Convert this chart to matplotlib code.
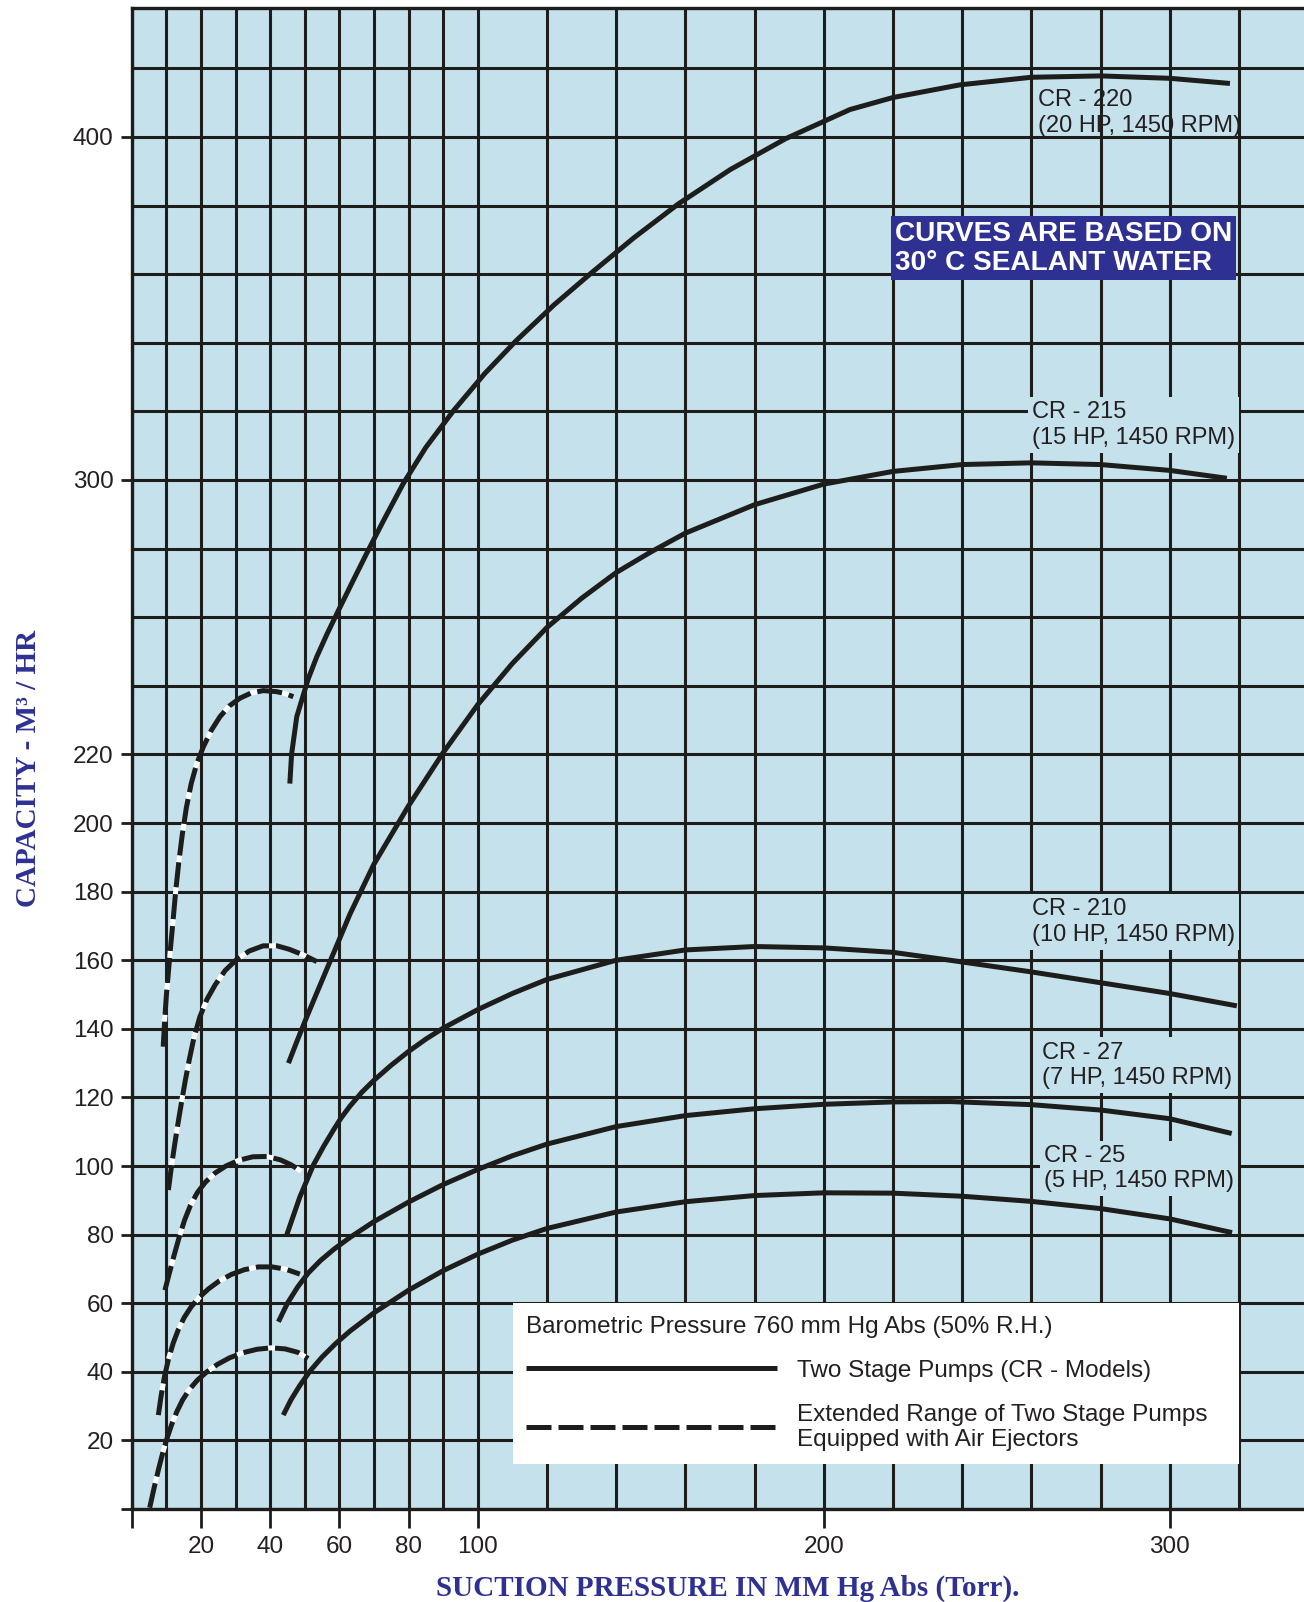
import matplotlib.pyplot as plt
from matplotlib.lines import Line2D

plt.rcParams['font.family'] = ['Liberation Sans', 'DejaVu Sans']

# ---- capacity curves (suction pressure torr -> capacity m3/hr), solid part ----
cr220_x = [45.7, 46.2, 47.7, 51.0, 53.5, 56.4, 60.0, 64.0, 68.0, 73.0, 78.5, 85.0, 93.0, 102.0, 111.0,
           122.0, 133.0, 145.0, 158.0, 173.0, 189.0, 207.6, 220.0, 239.4, 260.0, 280.0, 300.0, 317.4]
cr220_y = [211.5, 220.0, 231.0, 242.0, 248.5, 255.0, 262.5, 270.7, 278.8, 288.6, 299.0, 309.5, 320.2, 331.0,
           340.5, 351.0, 360.5, 370.5, 380.5, 390.5, 399.5, 408.0, 411.5, 415.2, 417.4, 417.8, 417.1, 415.6]

cr215_x = [45.3, 48.0, 50.6, 53.5, 58.3, 63.1, 70.0, 80.0, 90.0, 100.0, 110.0, 120.0, 130.0, 140.0,
           150.0, 160.0, 180.0, 200.0, 220.0, 240.0, 260.0, 280.0, 300.0, 316.5]
cr215_y = [130.0, 137.0, 143.5, 150.5, 162.0, 173.5, 188.0, 205.0, 220.5, 234.5, 246.5, 257.0, 265.5, 273.0,
           279.0, 284.5, 292.8, 298.8, 302.5, 304.5, 305.0, 304.5, 302.8, 300.5]

cr210_x = [44.8, 48.6, 52.5, 55.5, 58.3, 60.5, 63.1, 66.5, 70.0, 75.0, 80.0, 85.0, 90.0, 100.0, 110.0,
           120.0, 140.0, 160.0, 180.0, 200.0, 220.0, 236.5, 260.0, 280.3, 300.0, 319.4]
cr210_y = [79.9, 91.0, 100.3, 105.8, 110.5, 114.0, 117.5, 121.5, 125.0, 129.4, 133.4, 137.0, 140.2, 145.6, 150.3,
           154.4, 160.0, 163.0, 164.0, 163.6, 162.3, 160.0, 156.6, 153.4, 150.3, 146.7]

cr27_x = [42.4, 45.0, 48.0, 51.0, 54.5, 58.5, 63.1, 70.0, 80.0, 90.0, 100.0, 110.0, 120.0, 140.0,
          160.0, 180.0, 200.0, 220.0, 236.5, 260.0, 280.3, 300.0, 317.9]
cr27_y = [54.6, 60.0, 64.8, 68.8, 72.4, 75.8, 79.2, 83.8, 89.5, 94.6, 99.0, 103.0, 106.4, 111.5,
          114.7, 116.7, 118.0, 118.7, 118.8, 117.9, 116.3, 113.8, 109.5]

cr25_x = [43.8, 46.0, 48.5, 51.5, 55.0, 59.0, 63.1, 70.0, 80.0, 90.0, 100.0, 110.0, 120.0, 140.0,
          160.0, 180.0, 200.0, 220.0, 240.0, 260.0, 280.0, 300.0, 318.0]
cr25_y = [27.4, 31.8, 35.9, 40.2, 44.3, 48.3, 51.9, 57.2, 63.8, 69.5, 74.3, 78.4, 81.8, 86.6,
          89.6, 91.4, 92.2, 92.1, 91.2, 89.7, 87.6, 84.6, 80.6]

# ---- extended range with air ejectors (dashed) ----
ext220_x = [9.1, 9.5, 10.0, 10.6, 11.2, 11.9, 12.7, 13.6, 14.6, 15.8, 17.2, 18.8, 20.7, 23.0,
            25.5, 28.3, 31.3, 34.5, 38.0, 41.9, 44.5, 46.7]
ext220_y = [134.8, 142.0, 149.5, 156.5, 163.5, 171.0, 180.0, 188.5, 196.5, 204.5, 211.5, 217.3, 222.2, 227.0,
            231.0, 234.2, 236.4, 237.9, 238.6, 238.3, 237.7, 236.8]

ext215_x = [10.6, 11.5, 12.5, 13.5, 14.5, 15.5, 16.6, 18.0, 19.7, 21.7, 24.1, 27.0, 30.3, 34.0,
            38.0, 42.0, 45.5, 49.5, 53.5]
ext215_y = [93.0, 100.0, 106.8, 113.2, 119.2, 125.0, 130.8, 137.5, 143.5, 148.5, 152.8, 157.0, 160.2, 162.7,
            164.2, 164.2, 163.2, 161.6, 159.6]

ext210_x = [9.6, 10.8, 12.2, 13.7, 15.3, 17.0, 19.0, 21.3, 24.0, 27.2, 31.0, 35.0, 39.0, 43.0, 46.0, 49.0]
ext210_y = [63.8, 68.5, 73.8, 79.2, 84.3, 88.6, 92.3, 95.3, 97.9, 100.0, 101.7, 102.7, 102.8, 101.8, 100.4, 98.5]

ext27_x = [7.7, 8.5, 9.5, 10.7, 12.0, 13.5, 15.2, 17.2, 19.5, 22.2, 25.3, 28.8, 32.6, 36.6, 40.6, 44.6, 48.6]
ext27_y = [27.4, 33.0, 38.8, 44.0, 48.4, 52.4, 55.9, 59.0, 61.7, 64.2, 66.5, 68.4, 69.8, 70.6, 70.6, 69.9, 68.5]

ext25_x = [5.2, 6.5, 7.8, 9.0, 10.2, 11.5, 13.0, 14.7, 16.7, 19.0, 21.7, 24.8, 28.3, 32.2,
           36.3, 40.3, 44.3, 48.0, 51.0]
ext25_y = [0.4, 6.3, 11.8, 16.5, 20.6, 24.5, 28.3, 31.8, 34.9, 37.6, 40.0, 42.2, 44.1, 45.6,
           46.6, 47.0, 46.7, 45.7, 43.9]

curve_names = ['CR - 220\n(20 HP, 1450 RPM)', 'CR - 215\n(15 HP, 1450 RPM)',
               'CR - 210\n(10 HP, 1450 RPM)', 'CR - 27\n(7 HP, 1450 RPM)',
               'CR - 25\n(5 HP, 1450 RPM)']

# axis ticks and grid
xticks = [0, 20, 40, 60, 80, 100, 200, 300]
xtick_labels = ['', '20', '40', '60', '80', '100', '200', '300']
yticks = [0, 20, 40, 60, 80, 100, 120, 140, 160, 180, 200, 220, 300, 400]
ytick_labels = [''] + [str(v) for v in yticks[1:]]
xgrid = [10, 20, 30, 40, 50, 60, 70, 80, 90, 100, 120, 140, 160, 180, 200,
         220, 240, 260, 280, 300, 320]
ygrid = list(range(20, 421, 20))

legend_title = 'Barometric Pressure 760 mm Hg Abs (50% R.H.)'
legend_labels = ['Two Stage Pumps (CR - Models)',
                 'Extended Range of Two Stage Pumps\nEquipped with Air Ejectors']

BG = '#c5e1eb'
INK = '#1d1d1b'
TXT = '#231f20'
NAVY = '#2e3192'

fig = plt.figure(figsize=(13.04, 16.02), dpi=100)
ax = fig.add_axes([0.101, 0.058, 0.899, 0.9368])
ax.set_facecolor(BG)
ax.set_xlim(0, 338.8)
ax.set_ylim(0, 437.5)

ax.set_xticks(xticks)
ax.set_xticklabels(xtick_labels)
ax.set_yticks(yticks)
ax.set_yticklabels(ytick_labels)
ax.set_xticks(xgrid, minor=True)
ax.set_yticks(ygrid, minor=True)
ax.set_axisbelow(True)
ax.grid(which='both', color=INK, lw=2.2)
ax.tick_params(which='minor', length=0)
ax.tick_params(axis='x', which='major', length=13.7, width=2, pad=6,
               labelsize=17.5, color=INK, labelcolor=TXT)
ax.tick_params(axis='y', which='major', length=8, width=2, pad=5,
               labelsize=17.5, color=INK, labelcolor=TXT)
for side in ['left', 'bottom', 'top']:
    ax.spines[side].set_linewidth(2.4)
    ax.spines[side].set_color(INK)
ax.spines['right'].set_visible(False)

dash = (0, (5, 1.4))
for xs, ys in [(cr220_x, cr220_y), (cr215_x, cr215_y), (cr210_x, cr210_y),
               (cr27_x, cr27_y), (cr25_x, cr25_y)]:
    ax.plot(xs, ys, color=INK, lw=3.6, solid_capstyle='butt', solid_joinstyle='round', zorder=3)
for xs, ys in [(ext220_x, ext220_y), (ext215_x, ext215_y), (ext210_x, ext210_y),
               (ext27_x, ext27_y), (ext25_x, ext25_y)]:
    ax.plot(xs, ys, color=INK, lw=3.6, ls=dash, gapcolor='white', zorder=3)

# curve names
label_pos = [(261.9, 407.0), (260.2, 316.0), (260.2, 171.1), (263.1, 129.4), (263.7, 99.3)]
for i, (name, (lx, ly)) in enumerate(zip(curve_names, label_pos)):
    box = None if i == 0 else dict(boxstyle='square,pad=0.18', fc=BG, ec='none')
    ax.text(lx, ly, name, ha='left', va='center', fontsize=17, color=TXT,
            bbox=box, zorder=4)

ax.text(220.6, 367.6, 'CURVES ARE BASED ON\n30° C SEALANT WATER', ha='left', va='center',
        fontsize=20.2, fontweight='bold', color='white', linespacing=1.15,
        bbox=dict(boxstyle='square,pad=0.15', fc=NAVY, ec='none'), zorder=4)

handles = [Line2D([], [], color=INK, lw=3.6, solid_capstyle='butt'),
           Line2D([], [], color=INK, lw=3.6, ls=dash)]
leg = ax.legend(handles, legend_labels, title=legend_title, loc='upper left',
                bbox_to_anchor=(110.2, 13.6, 209.8, 46.6), bbox_transform=ax.transData,
                mode='expand', borderaxespad=0, borderpad=0.55, fontsize=17.5,
                title_fontsize=17.5, handlelength=10.3, handletextpad=0.85, labelspacing=0.9,
                alignment='left', frameon=True, fancybox=False, framealpha=1,
                facecolor='white', edgecolor='none')
leg.set_zorder(10)
for t in leg.get_texts():
    t.set_color(TXT)
leg.get_title().set_color(TXT)

fig.text(0.558, 0.0037, 'SUCTION PRESSURE IN MM Hg Abs (Torr).', ha='center', va='baseline',
         family='Liberation Serif', fontweight='bold', fontsize=21, color=NAVY)
fig.text(0.0222, 0.5206, 'CAPACITY - M³ / HR', rotation=90, ha='center', va='center',
         family='Liberation Serif', fontweight='bold', fontsize=21, color=NAVY)

fig.savefig('out.png', dpi=100)
